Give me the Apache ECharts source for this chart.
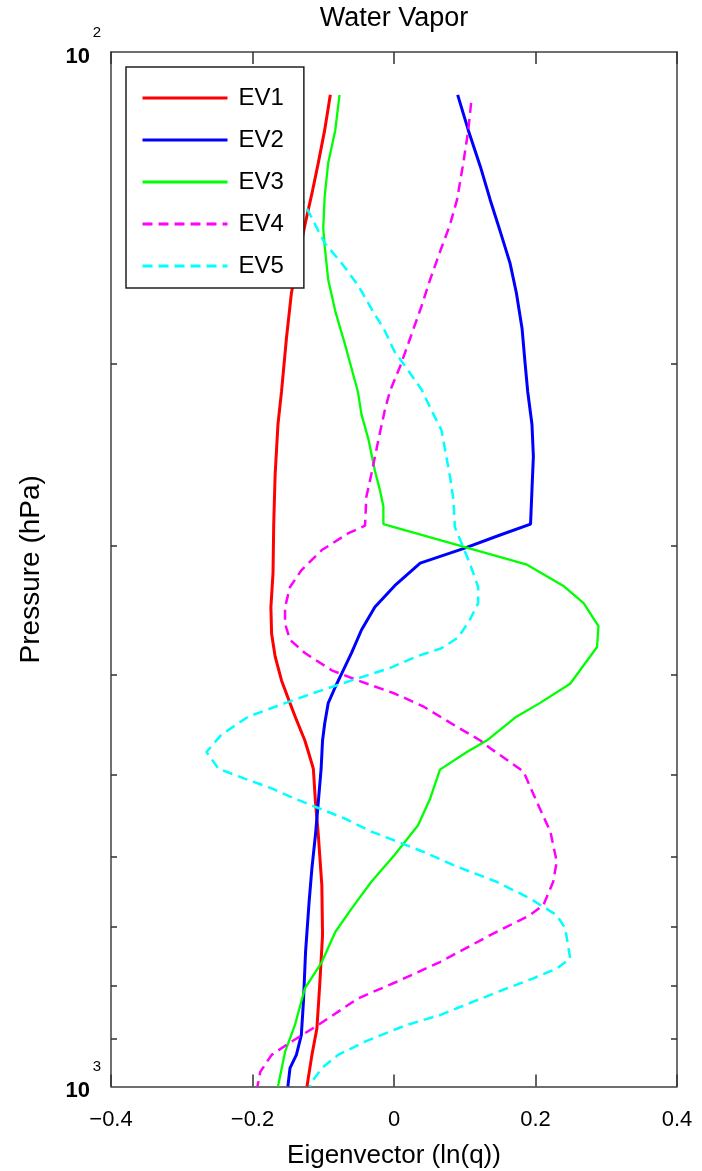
<!DOCTYPE html>
<html>
<head>
<meta charset="utf-8">
<script src="https://cdn.jsdelivr.net/npm/echarts@6/dist/echarts.min.js"></script>
<style>html,body{margin:0;padding:0;background:#fff}#c{width:702px;height:1171px}</style>
</head>
<body>
<div id="c"></div>
<script>
// ---------------- data ----------------
const seriesNames = ['EV1', 'EV2', 'EV3', 'EV4', 'EV5'];

const ev1Pressure = [110, 119, 128, 137, 147, 171, 189, 213, 229, 256, 286, 319, 344, 365, 384, 405, 426, 442, 463, 475, 493, 531, 571, 639, 714, 798, 879, 932, 1000];
const ev1Values   = [-0.090, -0.098, -0.107, -0.116, -0.126, -0.145, -0.152, -0.159, -0.164, -0.168, -0.170, -0.171, -0.174, -0.173, -0.168, -0.159, -0.147, -0.138, -0.126, -0.121, -0.114, -0.111, -0.107, -0.102, -0.101, -0.105, -0.109, -0.116, -0.123];

const ev2Pressure = [110, 119, 129, 139, 149, 160, 171, 185, 199, 213, 229, 246, 265, 286, 293, 302, 312, 328, 344, 362, 381, 399, 411, 426, 446, 463, 493, 531, 571, 615, 663, 741, 828, 892, 932, 960, 1000];
const ev2Values   = [0.090, 0.105, 0.122, 0.136, 0.150, 0.164, 0.173, 0.181, 0.185, 0.189, 0.195, 0.197, 0.195, 0.193, 0.150, 0.098, 0.037, 0.001, -0.027, -0.046, -0.060, -0.074, -0.083, -0.093, -0.098, -0.101, -0.103, -0.107, -0.111, -0.116, -0.120, -0.125, -0.128, -0.131, -0.138, -0.147, -0.150];

const ev3Pressure = [110, 119, 128, 138, 148, 154, 166, 178, 192, 213, 224, 237, 254, 265, 275, 286, 313, 328, 341, 359, 376, 408, 426, 439, 463, 475, 494, 527, 559, 597, 634, 673, 709, 758, 804, 872, 926, 1000];
const ev3Values   = [-0.077, -0.083, -0.093, -0.098, -0.100, -0.098, -0.093, -0.083, -0.069, -0.051, -0.046, -0.036, -0.027, -0.020, -0.015, -0.015, 0.188, 0.239, 0.268, 0.289, 0.287, 0.249, 0.206, 0.173, 0.131, 0.103, 0.065, 0.051, 0.034, 0.001, -0.032, -0.060, -0.083, -0.102, -0.126, -0.140, -0.154, -0.164];

const ev4Pressure = [112, 119, 128, 139, 147, 156, 166, 176, 189, 201, 213, 222, 237, 256, 269, 287, 292, 303, 317, 329, 344, 357, 370, 381, 396, 405, 417, 429, 449, 463, 471, 496, 531, 567, 606, 634, 668, 683, 714, 758, 792, 822, 872, 905, 932, 968, 1000];
const ev4Values   = [0.109, 0.105, 0.098, 0.089, 0.079, 0.065, 0.051, 0.039, 0.023, 0.009, -0.006, -0.013, -0.022, -0.032, -0.039, -0.041, -0.065, -0.102, -0.131, -0.147, -0.154, -0.154, -0.147, -0.126, -0.088, -0.051, 0.001, 0.041, 0.089, 0.122, 0.136, 0.183, 0.202, 0.221, 0.230, 0.225, 0.211, 0.192, 0.136, 0.065, 0.004, -0.051, -0.107, -0.145, -0.173, -0.189, -0.193];

const ev5Pressure = [110, 125, 140, 153, 160, 168, 177, 186, 195, 200, 212, 222, 232, 242, 257, 271, 288, 299, 312, 329, 341, 354, 368, 377, 384, 394, 405, 417, 426, 439, 457, 475, 493, 504, 515, 527, 538, 551, 567, 576, 593, 613, 634, 658, 683, 703, 752, 769, 786, 804, 828, 853, 872, 885, 905, 932, 960, 989, 1000];
const ev5Values   = [-0.206, -0.164, -0.127, -0.098, -0.074, -0.051, -0.032, -0.013, 0.001, 0.013, 0.039, 0.053, 0.067, 0.072, 0.079, 0.084, 0.086, 0.096, 0.107, 0.119, 0.119, 0.107, 0.091, 0.067, 0.032, -0.006, -0.060, -0.116, -0.154, -0.206, -0.244, -0.265, -0.248, -0.211, -0.173, -0.140, -0.107, -0.069, -0.032, -0.006, 0.041, 0.089, 0.145, 0.192, 0.230, 0.242, 0.249, 0.230, 0.197, 0.159, 0.112, 0.065, 0.018, -0.006, -0.041, -0.079, -0.102, -0.116, -0.119];

const xTickValues = [-0.4, -0.2, 0, 0.2, 0.4];
const yMinorTickValues = [200, 300, 400, 500, 600, 700, 800, 900];
const yLabelValues = [100, 1000];
const titleText = 'Water Vapor';
const xAxisName = 'Eigenvector (ln(q))';
const yAxisName = 'Pressure (hPa)';

// ---------------- styling ----------------
const FONT = '"Liberation Sans", Arial, Helvetica, sans-serif';
const colors = ['#ff0000', '#0000ff', '#00ff00', '#ff00ff', '#00ffff'];
const widths = [3, 3, 2.3, 2.5, 2.5];
const types = ['solid', 'solid', 'solid', [10, 6], [10, 6]];
const frameColor = '#404040';

const pressures = [ev1Pressure, ev2Pressure, ev3Pressure, ev4Pressure, ev5Pressure];
const values = [ev1Values, ev2Values, ev3Values, ev4Values, ev5Values];

const series = seriesNames.map((name, i) => ({
  name: name,
  type: 'line',
  xAxisIndex: 0,
  yAxisIndex: 0,
  data: values[i].map((v, k) => [v, pressures[i][k]]),
  symbol: 'none',
  showSymbol: false,
  smooth: false,
  clip: true,
  z: 2,
  lineStyle: { color: colors[i], width: widths[i], type: types[i] },
  itemStyle: { color: colors[i] },
  emphasis: { disabled: true }
}));

const axisLineStyle = { color: frameColor, width: 1.5 };
const tickStyle = { color: '#303030', width: 1.5 };

const xFmt = v => {
  const s = String(Math.round(v * 10) / 10);
  return v < 0 ? '\u2212' + s.slice(1) : s;
};

const option = {
  animation: false,
  backgroundColor: '#fff',
  title: {
    text: titleText,
    left: 394, top: 5, padding: 0,
    textAlign: 'center',
    textStyle: { fontSize: 27, fontWeight: 'normal', color: '#000', fontFamily: FONT }
  },
  legend: {
    orient: 'vertical',
    left: 126, top: 67,
    padding: [19, 20, 10, 15],
    itemWidth: 85, itemHeight: 24, itemGap: 18,
    backgroundColor: '#fff',
    borderColor: '#202020', borderWidth: 1.5, borderRadius: 0,
    z: 10,
    data: seriesNames,
    selectedMode: false,
    itemStyle: { opacity: 0, borderWidth: 0 },
    lineStyle: { width: 3 },
    textStyle: { fontSize: 24, color: '#000', fontFamily: FONT, padding: [0, 0, 0, 6] }
  },
  grid: { left: 111, right: 25, top: 52, bottom: 84.5, containLabel: false, outerBoundsMode: 'none' },
  xAxis: [
    {
      type: 'value', position: 'bottom', min: -0.4, max: 0.4, interval: 0.2,
      axisLine: { show: true, onZero: false, lineStyle: axisLineStyle },
      axisTick: { show: true, inside: true, length: 12, lineStyle: tickStyle },
      axisLabel: { margin: 22, fontSize: 22, color: '#000', fontFamily: FONT, formatter: xFmt },
      splitLine: { show: false },
      name: xAxisName, nameLocation: 'middle', nameGap: 56,
      nameTextStyle: { fontSize: 26, color: '#000', fontFamily: FONT }
    },
    {
      type: 'value', position: 'top', min: -0.4, max: 0.4, interval: 0.2,
      axisLine: { show: true, onZero: false, lineStyle: axisLineStyle },
      axisTick: { show: true, inside: true, length: 12, lineStyle: tickStyle },
      axisLabel: { show: false },
      splitLine: { show: false }
    }
  ],
  yAxis: [
    {
      type: 'log', logBase: 10, min: 100, max: 1000, inverse: true, position: 'left',
      axisLine: { show: true, onZero: false, lineStyle: axisLineStyle },
      axisTick: { show: true, inside: true, length: 6, lineStyle: tickStyle, customValues: yMinorTickValues },
      minorTick: { show: false },
      axisLabel: {
        customValues: yLabelValues,
        margin: 10,
        formatter: v => '{e|' + Math.round(Math.log10(v)) + '}\n{b|10}{s|}',
        rich: {
          e: { fontSize: 15, lineHeight: 9, color: '#000', fontFamily: FONT, align: 'right' },
          b: { fontSize: 22, lineHeight: 39, fontWeight: 'bold', color: '#000', fontFamily: FONT },
          s: { width: 11, height: 1 }
        }
      },
      splitLine: { show: false },
      name: yAxisName, nameLocation: 'middle', nameGap: 66,
      nameTextStyle: { fontSize: 28, color: '#000', fontFamily: FONT }
    },
    {
      type: 'log', logBase: 10, min: 100, max: 1000, inverse: true, position: 'right',
      axisLine: { show: true, onZero: false, lineStyle: axisLineStyle },
      axisTick: { show: true, inside: true, length: 6, lineStyle: tickStyle, customValues: yMinorTickValues },
      minorTick: { show: false },
      axisLabel: { show: false },
      splitLine: { show: false }
    }
  ],
  series: series
};

const chart = echarts.init(document.getElementById('c'), null, { renderer: 'canvas' });
chart.setOption(option);
</script>
</body>
</html>
